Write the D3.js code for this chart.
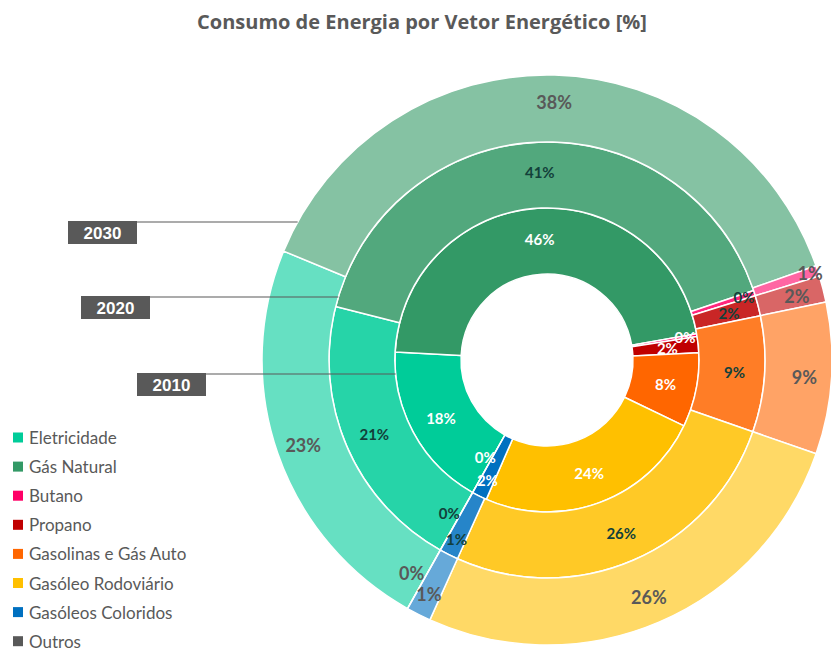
<!DOCTYPE html>
<html>
<head>
<meta charset="utf-8">
<script src="https://cdn.jsdelivr.net/npm/d3@7"></script>
<style>
  html, body { margin: 0; padding: 0; background: #fff; }
  svg { display: block; }
</style>
</head>
<body>
<svg id="chart" width="831" height="651"></svg>
<script>
// ---- data ----
const categories = ["Eletricidade", "Gás Natural", "Butano", "Propano", "Gasolinas e Gás Auto", "Gasóleo Rodoviário", "Gasóleos Coloridos", "Outros"];
const years = ["2010", "2020", "2030"];
const values2010 = [17.7, 46.4, 0.3, 1.7, 7.9, 24.4, 1.6, 0];
const values2020 = [20.8, 40.9, 0.4, 1.5, 8.6, 26.4, 1.4, 0];
const values2030 = [23.1, 38.4, 0.6, 1.5, 8.6, 26.4, 1.4, 0];
const baseColors = ["#00CC99", "#339966", "#FF0066", "#C00000", "#FF6600", "#FFC000", "#0070C0", "#595959"];
const title = "Consumo de Energia por Vetor Energético [%]";

const seriesByYear = [values2010, values2020, values2030];

// ---- layout / style ----
const W = 831, H = 651;
const cx = 547, cy = 360;
const ringR = [[86, 152], [152, 218], [218, 285]];
const ringTint = [0, 0.15, 0.4];
const labelR = [121, 188, 258];
const labelSize = [15, 15, 18];
const labelColor = ["#ffffff", "#12403A", "#595959"];
const startDeg = 209.3;
const yearBoxes = [ {x: 137, y: 373}, {x: 81, y: 296}, {x: 68, y: 221} ];
const boxW = 69, boxH = 23;

const svg = d3.select("#chart");

svg.append("text")
  .attr("x", 422).attr("y", 29)
  .attr("text-anchor", "middle")
  .attr("font-family", "'Open Sans', Lato, sans-serif")
  .attr("font-weight", "bold")
  .attr("font-size", 20)
  .attr("fill", "#595959")
  .text(title);

const pie = d3.pie().sort(null).value(d => d)
  .startAngle(startDeg * Math.PI / 180)
  .endAngle(startDeg * Math.PI / 180 + 2 * Math.PI);

const g = svg.append("g").attr("transform", `translate(${cx},${cy})`);

const color = (i, ring) => d3.interpolateRgb(baseColors[i], "#ffffff")(ringTint[ring]);

seriesByYear.forEach((vals, ring) => {
  const arcs = pie(vals);
  const arc = d3.arc().innerRadius(ringR[ring][0]).outerRadius(ringR[ring][1]);
  g.append("g").selectAll("path")
    .data(arcs)
    .join("path")
    .attr("d", arc)
    .attr("fill", (d, i) => color(i, ring))
    .attr("stroke", "#ffffff")
    .attr("stroke-width", 1.5)
    .attr("stroke-linejoin", "round");
});

// labels
seriesByYear.forEach((vals, ring) => {
  const arcs = pie(vals);
  g.append("g").selectAll("text")
    .data(arcs)
    .join("text")
    .each(function(d, i) {
      let a = (d.startAngle + d.endAngle) / 2;
      let r = labelR[ring];
      const cat = categories[i];
      if (cat === "Butano") r += 19;
      if (cat === "Gasóleos Coloridos") r += (ring === 2 ? 4 : 13);
      if (cat === "Outros") { a += 3.2 * Math.PI / 180; r -= 6; }
      d3.select(this)
        .attr("x", r * Math.sin(a))
        .attr("y", -r * Math.cos(a));
    })
    .attr("text-anchor", "middle")
    .attr("dominant-baseline", "central")
    .attr("font-family", "Lato, 'Open Sans', sans-serif")
    .attr("font-weight", "bold")
    .attr("font-size", labelSize[ring])
    .attr("fill", labelColor[ring])
    .text(d => Math.round(d.data) + "%");
});

// year labels with leader lines
years.forEach((yr, ring) => {
  const b = yearBoxes[ring];
  const ly = b.y + 1;
  const R = ringR[ring][1];
  const lx = cx - Math.sqrt(R * R - (ly - cy) * (ly - cy));
  svg.append("line")
    .attr("x1", b.x + boxW).attr("y1", ly)
    .attr("x2", lx).attr("y2", ly)
    .attr("stroke", "#595959").attr("stroke-width", 1.2);
  svg.append("rect")
    .attr("x", b.x).attr("y", b.y)
    .attr("width", boxW).attr("height", boxH)
    .attr("fill", "#595959");
  svg.append("text")
    .attr("x", b.x + boxW / 2).attr("y", b.y + boxH / 2 + 1)
    .attr("text-anchor", "middle")
    .attr("dominant-baseline", "central")
    .attr("font-family", "'Liberation Sans', Arial, sans-serif")
    .attr("font-weight", "bold")
    .attr("font-size", 17)
    .attr("fill", "#ffffff")
    .text(yr);
});

// legend
const legend = svg.append("g");
categories.forEach((c, i) => {
  const y = 437.5 + i * 29.1;
  legend.append("rect")
    .attr("x", 13).attr("y", y - 5)
    .attr("width", 10).attr("height", 10)
    .attr("fill", baseColors[i]);
  legend.append("text")
    .attr("x", 29).attr("y", y)
    .attr("dominant-baseline", "central")
    .attr("font-family", "Lato, 'Open Sans', sans-serif")
    .attr("font-size", 17)
    .attr("fill", "#595959")
    .text(c);
});
</script>
</body>
</html>
